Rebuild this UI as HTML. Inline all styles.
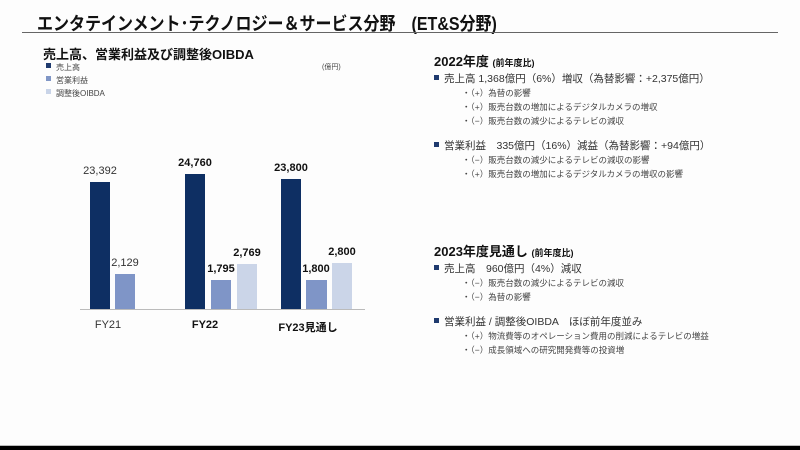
<!DOCTYPE html>
<html><head><meta charset="utf-8"><style>
body{margin:0;width:800px;height:450px;background:#fdfdfd;position:relative;overflow:hidden;font-family:"Liberation Sans","Noto Sans CJK JP",sans-serif;color:#222}
.a{position:absolute;white-space:nowrap}
.bar{position:absolute}
.v{position:absolute;width:60px;text-align:center;font-size:11px;color:#333}
.b{font-weight:bold;color:#111}
.sq{display:inline-block;width:5px;height:5px;background:#1f3a6e;margin-right:5px;vertical-align:2px}
.t{font-size:10.5px;color:#333}
.s{font-size:8.5px;color:#444}
</style></head><body>
<div class="a" style="left:37px;top:8px;font-size:16px;font-weight:bold;color:#111;transform:scaleY(1.15);transform-origin:left top">エンタテインメント･テクノロジー＆サービス分野　(ET&amp;S分野)</div>
<div class="a" style="left:22px;top:32px;width:756px;height:1px;background:#666"></div>
<div class="a" style="left:43px;top:44px;font-size:13px;font-weight:bold;color:#111">売上高、営業利益及び調整後OIBDA</div>
<div class="a s" style="left:46px;top:62px;font-size:8px"><span class="sq" style="background:#1f3a6e"></span>売上高</div>
<div class="a s" style="left:46px;top:75px;font-size:8px"><span class="sq" style="background:#8096c6"></span>営業利益</div>
<div class="a s" style="left:46px;top:88px;font-size:8px"><span class="sq" style="background:#c9d4e8"></span>調整後OIBDA</div>
<div class="a" style="left:322px;top:62px;font-size:7px;color:#444">(億円)</div>

<div class="bar" style="left:90px;top:182px;width:20px;height:128px;background:#0e2f63"></div>
<div class="bar" style="left:115px;top:274px;width:20px;height:36px;background:#7f95c7"></div>
<div class="bar" style="left:185px;top:174px;width:20px;height:136px;background:#0e2f63"></div>
<div class="bar" style="left:211px;top:280px;width:20px;height:30px;background:#7f95c7"></div>
<div class="bar" style="left:237px;top:264px;width:20px;height:46px;background:#cbd5e8"></div>
<div class="bar" style="left:281px;top:179px;width:20px;height:131px;background:#0e2f63"></div>
<div class="bar" style="left:306px;top:280px;width:21px;height:30px;background:#7f95c7"></div>
<div class="bar" style="left:332px;top:263px;width:20px;height:47px;background:#cbd5e8"></div>
<div class="a" style="left:80px;top:309px;width:285px;height:1px;background:#bbb"></div>

<div class="v" style="left:70px;top:165px">23,392</div>
<div class="v" style="left:95px;top:257px">2,129</div>
<div class="v b" style="left:165px;top:157px">24,760</div>
<div class="v b" style="left:191px;top:263px">1,795</div>
<div class="v b" style="left:217px;top:247px">2,769</div>
<div class="v b" style="left:261px;top:162px">23,800</div>
<div class="v b" style="left:286px;top:263px">1,800</div>
<div class="v b" style="left:312px;top:246px">2,800</div>
<div class="v" style="left:78px;top:319px">FY21</div>
<div class="v b" style="left:175px;top:319px">FY22</div>
<div class="v b" style="left:258px;top:319px;width:100px">FY23見通し</div>

<div class="a" style="left:434px;top:51px;font-size:13px;font-weight:bold;color:#111">2022年度 <span style="font-size:9px">(前年度比)</span></div>
<div class="a t" style="left:434px;top:71px"><span class="sq"></span>売上高 1,368億円（6%）増収（為替影響：+2,375億円）</div>
<div class="a s" style="left:462px;top:87px">・（+）為替の影響</div>
<div class="a s" style="left:462px;top:101px">・（+）販売台数の増加によるデジタルカメラの増収</div>
<div class="a s" style="left:462px;top:115px">・（−）販売台数の減少によるテレビの減収</div>
<div class="a t" style="left:434px;top:138px"><span class="sq"></span>営業利益　335億円（16%）減益（為替影響：+94億円）</div>
<div class="a s" style="left:462px;top:154px">・（−）販売台数の減少によるテレビの減収の影響</div>
<div class="a s" style="left:462px;top:168px">・（+）販売台数の増加によるデジタルカメラの増収の影響</div>

<div class="a" style="left:434px;top:241px;font-size:13px;font-weight:bold;color:#111">2023年度見通し <span style="font-size:9px">(前年度比)</span></div>
<div class="a t" style="left:434px;top:261px"><span class="sq"></span>売上高　960億円（4%）減収</div>
<div class="a s" style="left:462px;top:277px">・（−）販売台数の減少によるテレビの減収</div>
<div class="a s" style="left:462px;top:291px">・（−）為替の影響</div>
<div class="a t" style="left:434px;top:314px"><span class="sq"></span>営業利益 / 調整後OIBDA　ほぼ前年度並み</div>
<div class="a s" style="left:462px;top:330px">・（+）物流費等のオペレーション費用の削減によるテレビの増益</div>
<div class="a s" style="left:462px;top:344px">・（−）成長領域への研究開発費等の投資増</div>

<div class="a" style="left:0;top:445px;width:800px;height:1px;background:#bbb"></div>
<div class="a" style="left:0;top:446px;width:800px;height:4px;background:#000"></div>
</body></html>
